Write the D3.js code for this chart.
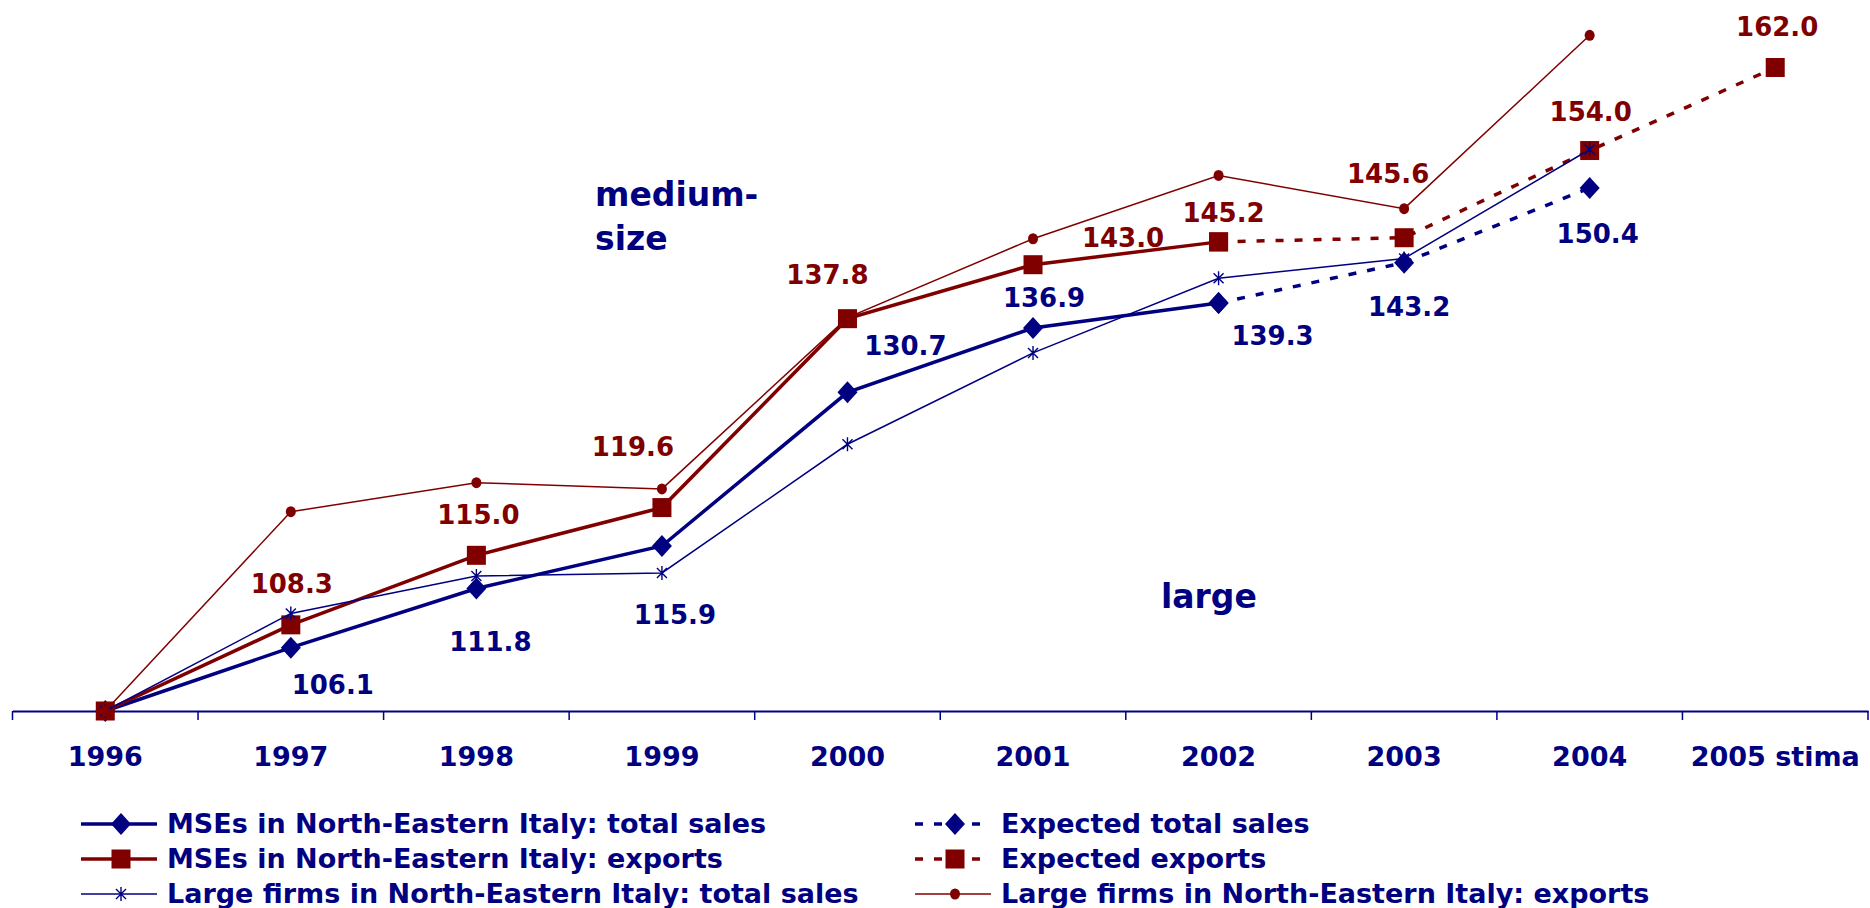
<!DOCTYPE html>
<html>
<head>
<meta charset="utf-8">
<script src="https://cdn.jsdelivr.net/npm/d3@7"></script>
<style>
  html, body { margin: 0; padding: 0; background: #fff; }
  svg { display: block; }
  text { font-family: "DejaVu Sans", sans-serif; font-weight: bold; }
</style>
</head>
<body>
<svg id="chart" width="1870" height="908"></svg>
<script>
// ---------- data ----------
const categories = ["1996","1997","1998","1999","2000","2001","2002","2003","2004","2005 stima"];
const mseSales        = [100, 106.1, 111.8, 115.9, 130.7, 136.9, 139.3, null, null, null];
const expectedSales   = [null, null, null, null, null, null, 139.3, 143.2, 150.4, null];
const mseExports      = [100, 108.3, 115.0, 119.6, 137.8, 143.0, 145.2, null, null, null];
const expectedExports = [null, null, null, null, null, null, 145.2, 145.6, 154.0, 162.0];
const largeSales      = [100, 109.4, 113.0, 113.3, 125.7, 134.5, 141.7, 143.6, 154.1, null];
const largeExports    = [100, 119.2, 122.0, 121.4, 137.9, 145.5, 151.6, 148.4, 165.1, null];

const seriesNames = [
  "MSEs in North-Eastern Italy: total sales",
  "Expected total sales",
  "MSEs in North-Eastern Italy: exports",
  "Expected exports",
  "Large firms in North-Eastern Italy: total sales",
  "Large firms in North-Eastern Italy: exports"
];

// value labels: which points are labelled (index into categories) and offsets (label placement)
const salesLabelIdx   = [1,2,3,4,5,6,7,8];
const exportsLabelIdx = [1,2,3,4,5,6,7,8,9];
const salesLabelOffsets   = {1:[42,46],2:[14,62],3:[13,78],4:[58,-37],5:[11,-21],6:[54,42],7:[5,53],8:[8,55]};
const exportsLabelOffsets = {1:[1,-32],2:[2,-31],3:[-29,-52],4:[-20,-35],5:[90,-18],6:[5,-20],7:[-16,-55],8:[1,-30],9:[2,-32]};

// ---------- setup ----------
const NAVY = "#000080", RED = "#800000";
const svg = d3.select("#chart");
svg.append("rect").attr("width",1870).attr("height",908).attr("fill","#fff");

const x = d3.scaleBand().domain(categories).range([12.5, 1868]).padding(0);
const cx = c => x(c) + x.bandwidth()/2;
const y = d3.scaleLinear().domain([100, 162]).range([711, 67.5]);

const combined = (a, b) => a.map((v,i) => v != null ? v : b[i]);
const salesAll = combined(mseSales, expectedSales);
const exportsAll = combined(mseExports, expectedExports);

const line = d3.line()
  .defined(d => d.v != null)
  .x(d => cx(d.c)).y(d => y(d.v));
const toPts = arr => arr.map((v,i) => ({c: categories[i], v}));

// ---------- axis ----------
const axisG = svg.append("g").attr("transform", "translate(0,711)");
axisG.call(d3.axisBottom(x).tickSize(0).tickSizeOuter(0).tickPadding(36));
axisG.select(".domain").attr("stroke", NAVY).attr("stroke-width", 2);
axisG.selectAll(".tick text")
  .attr("fill", NAVY).style("font-size", "27px")
  .style("font-family", "DejaVu Sans, sans-serif").style("font-weight", "bold");
const bounds = categories.map(c => x(c)).concat([x.range()[1]]);
axisG.selectAll("line.bound").data(bounds).enter().append("line")
  .attr("class","bound")
  .attr("x1", d => d).attr("x2", d => d).attr("y1", 0).attr("y2", 9)
  .attr("stroke", NAVY).attr("stroke-width", 1.5);

// ---------- markers ----------
function diamond(g, px, py, color) {
  g.append("path").attr("d", `M${px},${py-11}L${px+10},${py}L${px},${py+11}L${px-10},${py}Z`).attr("fill", color);
}
function square(g, px, py, color) {
  g.append("rect").attr("x", px-9.5).attr("y", py-9.5).attr("width", 19).attr("height", 19).attr("fill", color);
}
function asterisk(g, px, py, color) {
  g.append("path").attr("d", `M${px},${py-7}V${py+7}M${px-5},${py-5}L${px+5},${py+5}M${px-5},${py+5}L${px+5},${py-5}`)
    .attr("stroke", color).attr("stroke-width", 1.4).attr("fill","none");
}
function dot(g, px, py, color) {
  g.append("ellipse").attr("cx", px).attr("cy", py).attr("rx", 5).attr("ry", 5.5).attr("fill", color);
}

const styles = [
  {data: mseSales,        color: NAVY, w: 3.5, dash: null,   marker: diamond},
  {data: expectedSales,   color: NAVY, w: 3.5, dash: "8,11", marker: diamond},
  {data: mseExports,      color: RED,  w: 3.5, dash: null,   marker: square},
  {data: expectedExports, color: RED,  w: 3.5, dash: "8,11", marker: square},
  {data: largeSales,      color: NAVY, w: 1.5, dash: null,   marker: asterisk},
  {data: largeExports,    color: RED,  w: 1.5, dash: null,   marker: dot}
];

const plot = svg.append("g");
styles.forEach(s => {
  const g = plot.append("g");
  g.append("path").datum(toPts(s.data)).attr("d", line)
    .attr("fill","none").attr("stroke", s.color).attr("stroke-width", s.w)
    .attr("stroke-dasharray", s.dash);
  toPts(s.data).forEach(p => { if (p.v != null) s.marker(g, cx(p.c), y(p.v), s.color); });
});

// ---------- value labels ----------
const lbl = svg.append("g").style("font-size","26px").attr("text-anchor","middle");
exportsLabelIdx.forEach(i => {
  const o = exportsLabelOffsets[i];
  lbl.append("text").attr("x", cx(categories[i]) + o[0]).attr("y", y(exportsAll[i]) + o[1])
    .attr("fill", RED).text(exportsAll[i].toFixed(1));
});
salesLabelIdx.forEach(i => {
  const o = salesLabelOffsets[i];
  lbl.append("text").attr("x", cx(categories[i]) + o[0]).attr("y", y(salesAll[i]) + o[1])
    .attr("fill", NAVY).text(salesAll[i].toFixed(1));
});

// ---------- annotations ----------
const ann = svg.append("g").style("font-size","33px").attr("fill", NAVY);
ann.append("text").attr("x", 595).attr("y", 206).text("medium-");
ann.append("text").attr("x", 595).attr("y", 250).text("size");
ann.append("text").attr("x", 1161).attr("y", 608).text("large");

// ---------- legend ----------
const legendPos = [
  {col: 0, row: 0}, {col: 1, row: 0},
  {col: 0, row: 1}, {col: 1, row: 1},
  {col: 0, row: 2}, {col: 1, row: 2}
];
const colX = [81, 915], sampleW = 76, rowY = [833, 868, 903];
const leg = svg.append("g");
styles.forEach((s, i) => {
  const p = legendPos[i];
  const x0 = colX[p.col], base = rowY[p.row], ly = base - 9;
  leg.append("line").attr("x1", x0).attr("x2", x0 + sampleW).attr("y1", ly).attr("y2", ly)
    .attr("stroke", s.color).attr("stroke-width", s.w).attr("stroke-dasharray", s.dash);
  s.marker(leg, x0 + sampleW/2 + 2, ly, s.color);
  leg.append("text").attr("x", x0 + sampleW + 10).attr("y", base)
    .attr("fill", NAVY).style("font-size", "27px").text(seriesNames[i]);
});
</script>
</body>
</html>
